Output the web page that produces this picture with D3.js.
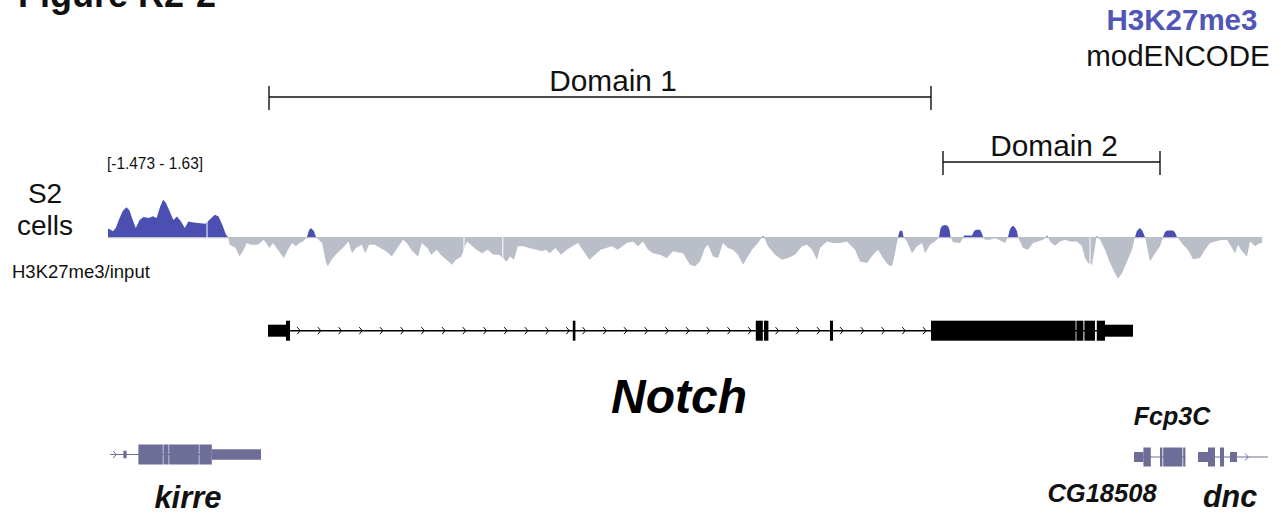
<!DOCTYPE html>
<html><head><meta charset="utf-8">
<script src="https://cdn.jsdelivr.net/npm/d3@7"></script>
<style>
body{margin:0;background:#fff}
svg{display:block}
text{font-family:"Liberation Sans",Arial,Helvetica,sans-serif}
</style>
</head><body>
<svg id="chart" width="1281" height="514"></svg>
<script>
// ---------------- DATA ----------------
// H3K27me3/input signal (S2 cells): positions in kb from window start, log-ratio values
const signalPos = [0.00,0.07,0.25,0.39,0.54,0.73,0.92,1.07,1.20,1.39,1.58,1.77,2.05,2.24,2.43,2.61,2.76,2.90,3.08,3.27,3.45,3.65,3.84,4.02,4.21,4.50,4.87,5.10,5.34,5.53,5.72,5.90,6.00,
6.09,6.38,6.57,6.75,6.94,7.13,7.50,7.79,8.07,8.25,8.54,8.79,9.00,9.20,9.39,9.58,9.75,9.95,10.05,10.15,10.30,10.40,10.70,10.89,10.99,11.18,11.45,11.74,12.02,12.20,12.40,12.68,12.87,13.05,13.34,13.62,13.90,14.19,14.47,14.75,14.94,15.22,15.50,15.69,15.97,16.16,16.44,16.63,16.92,17.20,17.39,17.67,17.95,18.14,18.42,18.70,18.98,19.27,19.55,19.93,20.11,20.30,20.49,20.77,21.05,21.43,21.71,21.90,22.09,22.37,22.65,22.94,23.22,23.50,23.78,24.07,24.35,24.63,24.91,25.20,25.48,
25.60,25.94,26.25,26.50,26.75,27.00,27.25,27.60,27.94,28.25,28.75,29.10,29.35,29.60,29.85,30.00,30.25,30.50,30.75,31.00,31.25,31.50,31.75,31.95,32.20,32.50,32.70,32.75,32.80,33.00,33.35,33.70,34.00,34.35,34.70,34.95,35.20,35.45,35.60,35.95,36.25,36.60,36.95,37.10,37.35,37.60,37.95,38.25,38.50,38.75,39.00,39.20,39.35,39.50,39.58,39.65,39.72,39.78,39.95,40.20,40.45,40.70,40.85,41.10,41.43,41.55,41.62,41.70,41.85,42.00,42.08,42.13,
42.25,42.60,42.75,42.80,43.20,43.30,43.40,43.60,43.70,43.75,43.85,44.10,44.35,44.60,44.85,45.00,45.08,45.15,45.25,45.35,45.45,45.50,45.60,45.75,46.00,46.25,46.50,46.75,46.90,46.95,47.00,47.10,47.35,47.60,47.85,48.10,48.45,48.70,48.85,49.00,49.20,49.35,49.42,49.45,49.50,49.60,49.85,50.10,50.35,50.50,50.70,50.95,51.20,51.35,51.45,51.60,51.72,51.85,51.95,52.10,52.35,52.60,52.75,52.85,52.95,53.25,53.35,53.45,53.50,53.75,54.00,54.25,54.60,54.85,55.10,55.35,55.60,55.95,56.20,56.35,56.50,56.70,56.95,57.10,57.35,57.60,57.70];
const signalVal = [0.35,0.35,0.25,0.39,0.74,1.12,1.30,1.17,0.83,0.39,0.74,0.87,0.83,0.91,0.83,1.33,1.62,1.48,1.12,0.74,0.90,0.68,0.39,0.68,0.64,0.61,0.58,0.78,0.97,0.90,0.53,0.10,0.00,
-0.33,-0.48,-0.84,-0.62,-0.26,-0.33,-0.33,-0.12,-0.48,-0.26,-0.62,-0.91,-0.55,-0.26,-0.40,-0.26,-0.19,0.00,0.30,0.39,0.25,0.00,-0.26,-1.06,-1.27,-0.99,-0.70,-0.48,-0.19,-0.70,-0.48,-0.33,-0.70,-0.33,-0.33,-0.48,-0.62,-0.84,-0.48,-0.12,-0.26,-0.62,-0.84,-0.26,-0.48,-0.77,-0.55,-0.77,-0.99,-1.20,-0.99,-0.84,-0.19,-0.33,-0.55,-0.70,-0.55,-0.77,-0.77,-1.06,-0.84,-0.99,-0.40,-0.40,-0.48,-0.55,-0.62,-0.55,-0.70,-0.48,-0.77,-0.55,-0.40,-0.26,-0.62,-0.99,-0.77,-0.55,-0.48,-0.40,-0.55,
-0.48,-0.26,-0.19,-0.40,-0.19,-0.55,-0.70,-0.77,-0.91,-0.62,-0.70,-1.20,-1.27,-1.06,-0.48,-0.33,-0.84,-0.91,-0.26,-0.48,-0.55,-0.77,-1.20,-0.91,-0.55,-0.26,0.00,0.06,0.00,-0.40,-0.77,-0.99,-0.91,-0.77,-0.40,-0.33,-0.55,-0.99,-0.48,-0.19,-0.26,-0.26,-0.19,-0.33,-0.55,-1.06,-1.13,-0.77,-0.55,-0.91,-1.20,-1.27,-0.70,0.00,0.25,0.29,0.25,0.00,-0.19,-0.70,-0.40,-0.26,-0.70,-0.33,-0.14,0.00,0.35,0.48,0.53,0.48,0.30,0.00,
-0.23,-0.26,-0.04,0.07,0.07,0.25,0.32,0.32,0.15,0.00,-0.12,-0.12,-0.04,-0.14,-0.26,0.00,0.30,0.42,0.49,0.42,0.25,0.00,-0.19,-0.48,-0.55,-0.26,-0.19,-0.12,0.00,0.07,0.00,-0.19,-0.38,-0.19,-0.12,-0.19,-0.19,-0.40,-0.91,-1.13,-1.20,-0.43,0.00,0.06,0.00,-0.12,-0.55,-1.13,-1.57,-1.81,-1.57,-1.06,-0.55,0.00,0.28,0.39,0.28,0.00,-0.40,-1.06,-0.70,-0.40,0.00,0.22,0.29,0.29,0.20,0.00,-0.04,-0.33,-0.55,-0.96,-0.91,-0.55,-0.26,-0.19,-0.14,-0.12,-0.48,-0.70,-0.33,-0.62,-0.84,-0.19,-0.40,-0.26,-0.26];
const gapPos = [4.95, 17.80, 19.74, 49.10];   // missing-data gaps (kb)
const dataRangeLabel = "[-1.473 - 1.63]";

// Domains
const domainNames = ["Domain 1", "Domain 2"];
const domainStart = [8.05, 41.75];
const domainEnd   = [41.15, 52.60];
const domainLabelPos = [25.25, 47.30];

// Notch gene model (kb): [start, end, kind]
const notchSpan = [8.00, 51.25];
const notchExons = [[8.00,8.90,"utr"],[8.90,9.10,"cds"],[23.24,23.37,"cds"],[32.39,32.74,"cds"],[32.80,33.02,"cds"],[36.10,36.25,"cds"],[41.15,48.38,"cds"],[48.42,48.77,"cds"],[48.82,49.35,"cds"],[49.44,49.85,"cds"],[49.85,51.25,"utr"]];
const notchLabelPos = 28.55;

// Neighbouring genes
const kirreSpan = [0.10, 7.65];
const kirreExons = [[0.77,0.93,"small"],[1.52,2.74,"cds"],[2.77,3.03,"cds"],[3.06,4.54,"cds"],[4.57,5.19,"cds"],[5.19,7.65,"utr"]];
const kirreArrows = [0.35];
const fcpSpan = [51.30, 53.87];
const fcpExons = [[51.30,51.77,"utr"],[51.77,52.14,"cds"],[52.60,52.72,"cds"],[52.76,53.72,"cds"],[53.76,53.87,"cds"]];
const dncSpan = [54.50, 58.00];
const dncExons = [[54.50,55.00,"utr"],[55.00,55.35,"cds"],[55.60,55.80,"cds"],[56.10,56.45,"utr"]];
const dncArrows = [56.95];
const geneLabels = [["kirre",4.0],["Fcp3C",53.2],["CG18508",49.7],["dnc",56.1]];

// ---------------- CHART ----------------
const svg = d3.select("#chart");
const x = d3.scaleLinear().domain([0, 57.7]).range([108, 1262]);
const y = d3.scaleLinear().domain([-1.85, 1.63]).range([279.6, 199.6]);

const BLUE = "#4a4fb1", GREY = "#b9bec8", GENE2 = "#6d6d97";

// Title (cut off at top in original)
svg.append("text").attr("x", 18).attr("y", 7).attr("font-size", 36).attr("font-weight", "bold").attr("fill", "#111").text("Figure R2-2");

// top right labels
svg.append("text").attr("x", 1182).attr("y", 30).attr("text-anchor", "middle").attr("font-size", 29.5).attr("font-weight", "bold").attr("fill", "#5055b8").text("H3K27me3");
svg.append("text").attr("x", 1178).attr("y", 66).attr("text-anchor", "middle").attr("font-size", 29.5).attr("fill", "#111").text("modENCODE");

// Domains
const dom = svg.append("g");
const domY = [97, 162];
domainNames.forEach((n, i) => {
  const g = dom.append("g");
  const y0 = domY[i];
  g.append("line").attr("x1", x(domainStart[i])).attr("x2", x(domainEnd[i])).attr("y1", y0).attr("y2", y0).attr("stroke", "#111").attr("stroke-width", 1.4);
  [domainStart[i], domainEnd[i]].forEach(p => g.append("line").attr("x1", x(p)).attr("x2", x(p)).attr("y1", y0 - 11).attr("y2", y0 + 13).attr("stroke", "#111").attr("stroke-width", 1.4));
  g.append("text").attr("x", x(domainLabelPos[i])).attr("y", y0 - 6).attr("text-anchor", "middle").attr("font-size", 29.8).attr("fill", "#111").text(n);
});

// Track labels
svg.append("text").attr("x", 45).attr("y", 203).attr("text-anchor", "middle").attr("font-size", 28).attr("fill", "#111").text("S2");
svg.append("text").attr("x", 45).attr("y", 235).attr("text-anchor", "middle").attr("font-size", 28).attr("fill", "#111").text("cells");
svg.append("text").attr("x", 12).attr("y", 278).attr("font-size", 18.5).attr("fill", "#111").text("H3K27me3/input");
svg.append("text").attr("x", 107).attr("y", 169).attr("font-size", 16).attr("fill", "#111").attr("textLength", 96).attr("lengthAdjust", "spacingAndGlyphs").text(dataRangeLabel);

// Signal
const pts = signalPos.map((p, i) => ({p, v: signalVal[i]}));
const defs = svg.append("defs");
defs.append("clipPath").attr("id", "pos").append("rect").attr("x", 0).attr("width", 1281).attr("y", 0).attr("height", y(0));
defs.append("clipPath").attr("id", "neg").append("rect").attr("x", 0).attr("width", 1281).attr("y", y(0)).attr("height", 300);
const area = d3.area().x(d => x(d.p)).y0(y(0)).y1(d => y(d.v));
const trk = svg.append("g");
trk.append("line").attr("x1", x(0)).attr("x2", x(57.7)).attr("y1", y(0) + 0.5).attr("y2", y(0) + 0.5).attr("stroke", GREY).attr("stroke-width", 1.2);
trk.append("path").datum(pts).attr("d", area).attr("fill", BLUE).attr("clip-path", "url(#pos)");
trk.append("path").datum(pts).attr("d", area).attr("fill", GREY).attr("clip-path", "url(#neg)");
trk.selectAll("line.gap").data(gapPos).join("line").attr("class", "gap")
  .attr("x1", d => x(d)).attr("x2", d => x(d)).attr("y1", y(1.7)).attr("y2", y(-1.9)).attr("stroke", "#fff").attr("stroke-width", 1);

// Gene drawing helper
function drawGene(g, span, exons, yc, color, opts) {
  const hmap = opts.h;
  g.append("line").attr("x1", x(span[0])).attr("x2", x(span[1])).attr("y1", yc).attr("y2", yc).attr("stroke", color).attr("stroke-width", opts.lw);
  g.selectAll("rect").data(exons).join("rect")
    .attr("x", d => x(d[0])).attr("width", d => Math.max(1, x(d[1]) - x(d[0])))
    .attr("y", d => yc - hmap[d[2]] / 2).attr("height", d => hmap[d[2]]).attr("fill", color);
  let arrows = opts.arrows || [];
  if (opts.autoArrows) {
    arrows = [];
    for (let i = 1; i < exons.length; i++) {
      const a = exons[i - 1][1], b = exons[i][0];
      if (b - a < 0.5) continue;
      for (let p = a + opts.autoArrows.offset; p < b - 0.2; p += opts.autoArrows.step) arrows.push(p);
    }
  }
  g.selectAll("path.arr").data(arrows).join("path").attr("class", "arr")
    .attr("d", d => `M${x(d) - 1.8},${yc - 3.5}L${x(d) + 1.2},${yc}L${x(d) - 1.8},${yc + 3.5}`)
    .attr("fill", "none").attr("stroke", color).attr("stroke-width", 1);
}

drawGene(svg.append("g"), notchSpan, notchExons, 330.7, "#000", {h: {utr: 12, cds: 20}, lw: 1.5, autoArrows: {offset: 0.45, step: 1.035}});
svg.append("text").attr("x", x(notchLabelPos)).attr("y", 413).attr("text-anchor", "middle").attr("font-size", 48).attr("font-weight", "bold").attr("font-style", "italic").attr("fill", "#000").text("Notch");

drawGene(svg.append("g"), kirreSpan, kirreExons, 454.5, GENE2, {h: {utr: 10.5, cds: 20, small: 7.6}, lw: 1, arrows: kirreArrows});
drawGene(svg.append("g"), fcpSpan, fcpExons, 457, GENE2, {h: {utr: 10, cds: 19}, lw: 1});
drawGene(svg.append("g"), dncSpan, dncExons, 457, GENE2, {h: {utr: 10, cds: 19}, lw: 1, arrows: dncArrows});

const labelStyle = {kirre: [31, 508], Fcp3C: [25, 425], CG18508: [25.5, 502], dnc: [30.5, 507]};
geneLabels.forEach(([n, p]) => {
  svg.append("text").attr("x", x(p)).attr("y", labelStyle[n][1]).attr("text-anchor", "middle")
    .attr("font-size", labelStyle[n][0]).attr("font-weight", "bold").attr("font-style", "italic").attr("fill", "#111").text(n);
});
</script>
</body></html>
